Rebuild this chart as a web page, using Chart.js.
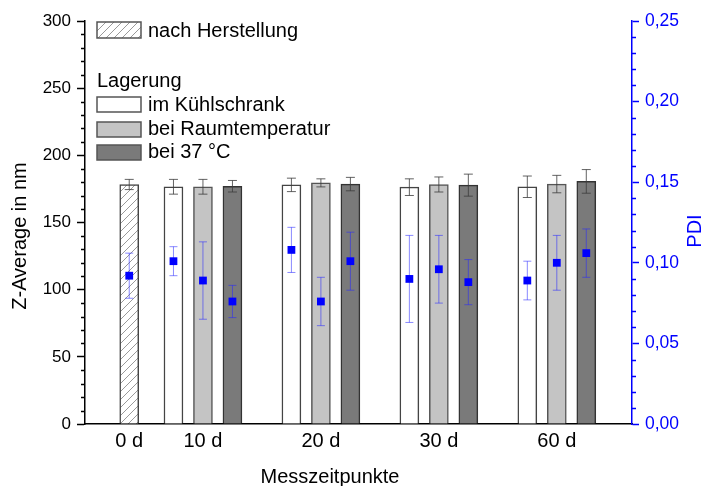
<!DOCTYPE html>
<html>
<head>
<meta charset="utf-8">
<script src="https://cdn.jsdelivr.net/npm/chart.js@4"></script>
<style>
  body { margin: 0; background: #fff; }
  #wrap { width: 704px; height: 486px; }
</style>
</head>
<body>
<div id="wrap"><canvas id="myChart"></canvas></div>
<script>
// Messzeitpunkte und ihre Lage auf der x-Achse (in Balkenbreiten)
let categories = ['0 d', '10 d', '20 d', '30 d', '60 d']
let groupSlots = [1.5, 4, 8, 12, 16]

// Z-Average in nm (Mittelwert und Standardabweichung)
let zHerstellung = [178.3]
let zHerstellungErr = [3.8]
let zKuehl = [176.6, 178.0, 176.3, 176.6]
let zKuehlErr = [5.5, 5.0, 6.2, 8.0]
let zRaum = [176.6, 179.5, 178.3, 178.6]
let zRaumErr = [5.5, 3.0, 5.6, 6.5]
let z37 = [177.0, 178.6, 177.8, 180.6]
let z37Err = [4.3, 5.0, 8.2, 8.8]

// PDI (Mittelwert und Standardabweichung)
let pdiHerstellung = [0.092]
let pdiHerstellungErr = [0.014]
let pdiKuehl = [0.101, 0.108, 0.090, 0.089]
let pdiKuehlErr = [0.009, 0.014, 0.027, 0.012]
let pdiRaum = [0.089, 0.076, 0.096, 0.100]
let pdiRaumErr = [0.024, 0.015, 0.021, 0.017]
let pdi37 = [0.076, 0.101, 0.088, 0.106]
let pdi37Err = [0.010, 0.018, 0.014, 0.015]

let yTicks = [0, 50, 100, 150, 200, 250, 300]
let pdiTicks = [0, 0.05, 0.10, 0.15, 0.20, 0.25]

const FONT = "'Liberation Sans', Arial, sans-serif"
const BLUE = '#0000ff'

function hatchPattern() {
  let c = document.createElement('canvas')
  c.width = 8
  c.height = 8
  let g = c.getContext('2d')
  g.fillStyle = '#fff'
  g.fillRect(0, 0, 8, 8)
  g.strokeStyle = '#9a9a9a'
  g.lineWidth = 1
  g.beginPath()
  g.moveTo(-1, 9); g.lineTo(9, -1)
  g.moveTo(-1, 1); g.lineTo(1, -1)
  g.moveTo(7, 9); g.lineTo(9, 7)
  g.stroke()
  return g.createPattern(c, 'repeat')
}
let hatch = hatchPattern()

let storageSlots = groupSlots.slice(1)
let toPoints = (slots, values) => values.map((v, i) => ({x: slots[i], y: v}))

let kuehlSlots = storageSlots.map(s => s - 1)
let raumSlots = storageSlots
let slots37 = storageSlots.map(s => s + 1)

let pdiData = [].concat(
  toPoints([groupSlots[0]], pdiHerstellung),
  toPoints(kuehlSlots, pdiKuehl),
  toPoints(raumSlots, pdiRaum),
  toPoints(slots37, pdi37)
)
let pdiErr = [].concat(pdiHerstellungErr, pdiKuehlErr, pdiRaumErr, pdi37Err)

let barBase = {
  type: 'bar',
  grouped: false,
  barThickness: 19,
  borderWidth: 1.5,
  order: 1,
  yAxisID: 'y'
}

const errorBars = {
  id: 'errorBars',
  beforeDatasetDraw(chart, args) {
    if (chart.data.datasets[args.index].type !== 'scatter') return
    let ctx = chart.ctx
    let drawErr = (x, top, bottom, half, color) => {
      ctx.strokeStyle = color
      ctx.lineWidth = 1
      ctx.beginPath()
      ctx.moveTo(x, top); ctx.lineTo(x, bottom)
      ctx.moveTo(x - half, top); ctx.lineTo(x + half, top)
      ctx.moveTo(x - half, bottom); ctx.lineTo(x + half, bottom)
      ctx.stroke()
    }
    ctx.save()
    let ys = chart.scales.y
    chart.data.datasets.forEach((ds, i) => {
      if (ds.type !== 'bar') return
      chart.getDatasetMeta(i).data.forEach((bar, j) => {
        let v = ds.data[j].y
        drawErr(bar.x, ys.getPixelForValue(v + ds.errors[j]), ys.getPixelForValue(v - ds.errors[j]), 4.5, 'rgba(60,60,60,0.8)')
      })
    })
    let ps = chart.scales.y2
    args.meta.data.forEach((pt, j) => {
      let v = pdiData[j].y
      drawErr(pt.x, ps.getPixelForValue(v + pdiErr[j]), ps.getPixelForValue(v - pdiErr[j]), 4, 'rgba(40,40,255,0.55)')
    })
    ctx.restore()
  }
}

const extras = {
  id: 'extras',
  afterDraw(chart) {
    let ctx = chart.ctx
    let ys = chart.scales.y
    let ps = chart.scales.y2
    let area = chart.chartArea
    ctx.save()

    // Nebenstriche an beiden y-Achsen
    ctx.lineWidth = 1.5
    ctx.strokeStyle = '#000'
    ctx.beginPath()
    for (let v = 10; v < 300; v += 10) {
      if (v % 50 === 0) continue
      let py = Math.round(ys.getPixelForValue(v)) + 0.5
      ctx.moveTo(area.left - 4, py); ctx.lineTo(area.left, py)
    }
    ctx.stroke()
    ctx.strokeStyle = BLUE
    ctx.beginPath()
    for (let k = 1; k < 25; k++) {
      if (k % 5 === 0) continue
      let py = Math.round(ps.getPixelForValue(k / 100)) + 0.5
      ctx.moveTo(area.right, py); ctx.lineTo(area.right + 4, py)
    }
    ctx.stroke()

    // Achsentitel
    ctx.font = `20px ${FONT}`
    ctx.textAlign = 'center'
    ctx.textBaseline = 'middle'
    let vertical = (text, x, y, color) => {
      ctx.fillStyle = color
      ctx.translate(x, y)
      ctx.rotate(-Math.PI / 2)
      ctx.fillText(text, 0, 0)
      ctx.setTransform(1, 0, 0, 1, 0, 0)
    }
    vertical('Z-Average in nm', 20, 236, '#000')
    vertical('PDI', 695, 231, BLUE)
    ctx.fillStyle = '#000'
    ctx.fillText('Messzeitpunkte', 330, 477)

    // Legende
    let box = (y, h, fill) => {
      ctx.fillStyle = fill
      ctx.fillRect(97, y, 44, h)
      ctx.strokeStyle = '#555'
      ctx.lineWidth = 1.5
      ctx.strokeRect(97, y, 44, h)
    }
    let label = (text, x, y) => {
      ctx.fillStyle = '#000'
      ctx.textAlign = 'left'
      ctx.textBaseline = 'alphabetic'
      ctx.font = `20px ${FONT}`
      ctx.fillText(text, x, y)
    }
    let sets = chart.data.datasets
    box(22, 16, hatch)
    label(sets[0].label, 148, 37)
    label('Lagerung', 97, 87)
    box(97, 15, sets[1].backgroundColor)
    label(sets[1].label, 148, 111)
    box(122, 15, sets[2].backgroundColor)
    label(sets[2].label, 148, 135)
    box(145, 15, sets[3].backgroundColor)
    label(sets[3].label, 148, 158)
    ctx.restore()
  }
}

var ctx = document.querySelector('#myChart').getContext('2d')
var myChart = new Chart(ctx, {
  type: 'bar',
  data: {
    datasets: [
      Object.assign({}, barBase, {
        label: 'nach Herstellung',
        data: toPoints([groupSlots[0]], zHerstellung),
        errors: zHerstellungErr,
        backgroundColor: hatch,
        borderColor: '#444'
      }),
      Object.assign({}, barBase, {
        label: 'im Kühlschrank',
        data: toPoints(kuehlSlots, zKuehl),
        errors: zKuehlErr,
        backgroundColor: '#ffffff',
        borderColor: '#444'
      }),
      Object.assign({}, barBase, {
        label: 'bei Raumtemperatur',
        data: toPoints(raumSlots, zRaum),
        errors: zRaumErr,
        backgroundColor: '#c4c4c4',
        borderColor: '#555'
      }),
      Object.assign({}, barBase, {
        label: 'bei 37 °C',
        data: toPoints(slots37, z37),
        errors: z37Err,
        backgroundColor: '#7a7a7a',
        borderColor: '#333'
      }),
      {
        type: 'scatter',
        label: 'PDI',
        data: pdiData,
        yAxisID: 'y2',
        order: 0,
        pointStyle: 'rect',
        pointRadius: 5.5,
        backgroundColor: BLUE,
        borderColor: BLUE,
        borderWidth: 0
      }
    ]
  },
  options: {
    responsive: true,
    maintainAspectRatio: false,
    animation: false,
    layout: {padding: {top: 21, left: 0, right: 0, bottom: 0}},
    plugins: {
      legend: {display: false},
      tooltip: {enabled: false}
    },
    scales: {
      x: {
        type: 'linear',
        offset: false,
        min: 0,
        max: 18.55,
        afterBuildTicks: scale => { scale.ticks = groupSlots.map(v => ({value: v})) },
        afterFit: scale => { scale.height = 62 },
        grid: {display: false, drawTicks: false, offset: false},
        border: {display: true, color: '#000', width: 1.5},
        ticks: {
          autoSkip: false,
          maxRotation: 0,
          padding: 5,
          color: '#000',
          font: {family: FONT, size: 20},
          callback: (value, index) => categories[index]
        },
        title: {display: false}
      },
      y: {
        position: 'left',
        min: 0,
        max: 300,
        afterBuildTicks: scale => { scale.ticks = yTicks.map(v => ({value: v})) },
        afterFit: scale => { scale.width = 85 },
        grid: {drawOnChartArea: false, drawTicks: true, tickLength: 8, tickColor: '#000', tickWidth: 1.5},
        border: {display: true, color: '#000', width: 1.5},
        ticks: {
          padding: 6,
          color: '#000',
          font: {family: FONT, size: 17}
        },
        title: {display: false}
      },
      y2: {
        position: 'right',
        min: 0,
        max: 0.25,
        afterBuildTicks: scale => { scale.ticks = pdiTicks.map(v => ({value: v})) },
        afterFit: scale => { scale.width = 72 },
        grid: {drawOnChartArea: false, drawTicks: true, tickLength: 7, tickColor: BLUE, tickWidth: 1.5},
        border: {display: true, color: BLUE, width: 1.5},
        ticks: {
          padding: 6,
          color: BLUE,
          font: {family: FONT, size: 17.5},
          callback: v => v.toFixed(2).replace('.', ',')
        },
        title: {display: false}
      }
    }
  },
  plugins: [errorBars, extras]
})
</script>
</body>
</html>
